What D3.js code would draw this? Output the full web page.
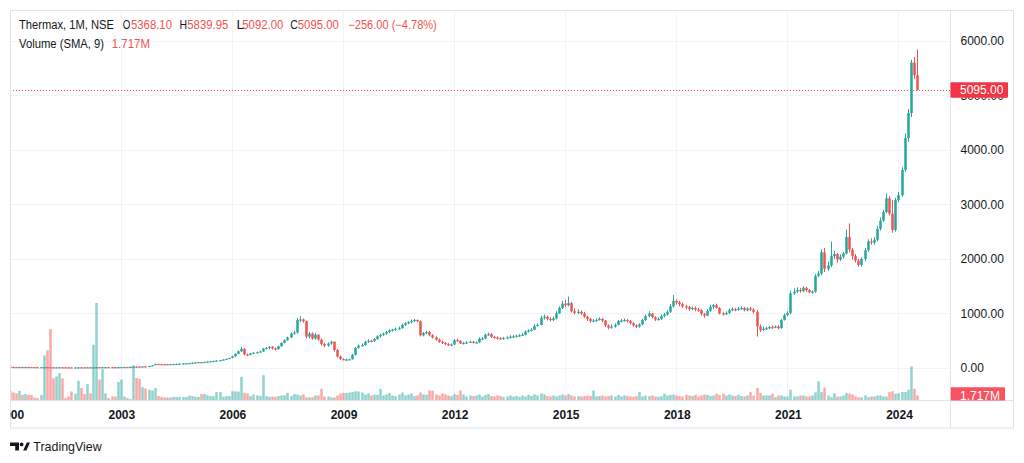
<!DOCTYPE html>
<html><head><meta charset="utf-8">
<script src="https://cdn.jsdelivr.net/npm/d3@7"></script>
<style>html,body{margin:0;padding:0;background:#fff;overflow:hidden}</style>
</head><body>
<svg id="c" width="1024" height="463" xmlns="http://www.w3.org/2000/svg"></svg>
<script>
// ---- DATA: monthly candles, Jan 2000 .. Jul 2024 ----
const startYear = 2000;
const open = [
 21,20,19,18,19,18,19,18,17,16.5,16,16.5,
 17,15,13,12.5,13,14,13,12.5,12,11.5,12,13,
 12.5,12,13,12.5,14,16,15,16,16.5,16,15.5,15,
 16,18,19,18.5,21,26,25,24,30,29,38,52,
 75,72,70,68,71,70,74,76,80,84,88,92,
 100,104,108,106,112,118,124,130,138,146,156,168,
 185,215,260,305,350,250,240,265,280,290,305,355,
 370,390,360,345,400,460,510,560,630,650,880,890,
 860,575,630,540,610,520,440,410,450,480,330,210,
 165,150,155,160,240,370,410,420,480,500,490,530,
 580,610,630,660,690,700,720,730,790,820,840,860,
 880,860,600,640,660,600,560,520,480,460,440,420,
 430,510,500,450,460,470,480,460,470,540,540,610,
 620,570,560,545,540,550,560,575,580,590,600,610,
 670,690,700,770,790,920,940,900,880,910,1000,1100,
 1180,1150,1190,1040,1010,1030,1000,940,900,860,870,880,
 900,870,780,740,760,790,860,870,880,860,820,780,
 760,800,880,950,1000,930,890,900,950,980,1030,1130,
 1230,1200,1170,1130,1120,1080,1100,1070,1060,990,960,1050,
 1120,1150,1100,1000,990,1010,1060,1080,1070,1090,1100,1060,
 1090,1070,1030,760,700,720,730,750,740,760,730,880,
 970,1010,1370,1400,1430,1410,1470,1430,1390,1400,1690,1730,
 2120,1820,1880,2050,2090,1990,2040,2100,2400,2170,2050,1970,
 1890,2000,2160,2320,2300,2350,2550,2700,2860,3110,2830,2530,
 3080,3170,3630,4215,4675,5600,5368.10
];
const high = [
 22,21,20,20,20,20,20,19,18,17.5,17.5,18,
 18,16,14,14,15,15,14,13.5,13,12.5,13.5,14,
 13.5,14,14,15,17,17,17,17.5,17.5,17,16.5,17,
 19,20,20,22,28,28,27,32,32,40,55,78,
 78,75,72,73,74,76,79,82,86,90,95,103,
 108,110,110,114,120,126,133,141,149,160,172,190,
 225,270,320,390,365,265,275,290,300,315,365,385,
 400,400,375,410,470,525,575,650,680,920,950,910,
 870,660,650,640,620,540,460,470,500,490,350,230,
 180,170,170,260,385,430,450,500,530,520,550,600,
 620,650,680,710,720,740,760,810,840,860,890,900,
 890,870,660,680,680,620,580,540,500,480,460,450,
 530,540,510,480,490,500,500,490,560,570,630,650,
 640,590,580,570,570,580,600,600,610,620,640,690,
 710,730,800,820,960,980,960,930,940,1040,1130,1230,
 1250,1310,1210,1090,1080,1060,1030,960,920,900,910,930,
 920,880,800,800,820,880,900,910,900,880,840,800,
 820,900,980,1040,1010,950,930,980,1010,1060,1170,1340,
 1260,1230,1200,1160,1140,1130,1130,1100,1080,1010,1080,1160,
 1170,1180,1120,1030,1040,1090,1110,1100,1120,1130,1120,1110,
 1120,1100,1060,800,760,760,770,780,780,790,900,1000,
 1040,1420,1460,1480,1470,1500,1490,1450,1420,1720,1780,2170,
 2200,1950,2320,2150,2110,2080,2130,2540,2650,2200,2090,2000,
 2030,2200,2360,2380,2400,2600,2760,2900,3200,3150,3080,3120,
 3230,3680,4300,4750,5650,5700,5839.95
];
const low = [
 19,18,17,17.5,17,17.5,17,16.5,16,15.5,15.5,16,
 14,12.5,12,12,12.5,12.5,12,11.5,11,11,11.5,12,
 11.5,11.5,12,12,13.5,14.5,14.5,15.5,15.5,15,14.5,14.5,
 15.5,17.5,18,18,20,24,23,23,28,28,36,50,
 70,68,66,66,68,68,72,74,78,82,86,90,
 98,102,104,104,110,116,122,128,136,144,154,165,
 180,205,250,295,230,215,230,255,270,280,295,340,
 340,340,320,335,390,450,500,550,610,630,840,830,
 540,540,520,520,500,410,380,390,430,300,190,150,
 140,140,145,155,230,350,390,410,460,470,480,520,
 560,590,610,640,670,680,700,720,770,800,820,840,
 840,580,580,620,580,540,500,460,440,420,400,400,
 420,480,440,430,440,460,450,450,460,510,530,590,
 550,540,520,520,520,530,540,550,560,570,590,600,
 650,670,690,760,780,890,870,850,860,890,990,1080,
 1120,1130,1020,980,990,970,920,860,830,840,850,870,
 840,750,710,720,740,780,840,850,830,800,760,730,
 740,780,860,930,910,860,870,880,930,960,1010,1110,
 1160,1130,1100,1080,1050,1060,1040,1030,960,920,950,1030,
 1080,1090,980,960,970,990,1040,1040,1050,1070,1040,1040,
 1050,1000,575,660,680,700,710,720,730,710,720,870,
 950,990,1340,1370,1380,1390,1400,1370,1360,1380,1660,1700,
 1760,1780,1850,2000,1930,1960,2010,2080,2120,1990,1930,1860,
 1860,1960,2130,2260,2260,2320,2520,2680,2840,2800,2480,2500,
 3040,3140,3600,4150,4600,5300,5092
];
const close = [
 20,19,18,19,18,19,18,17,16.5,16,16.5,17,
 15,13,12.5,13,14,13,12.5,12,11.5,12,13,12.5,
 12,13,12.5,14,16,15,16,16.5,16,15.5,15,16,
 18,19,18.5,21,26,25,24,30,29,38,52,75,
 72,70,68,71,70,74,76,80,84,88,92,100,
 104,108,106,112,118,124,130,138,146,156,168,185,
 215,260,305,350,250,240,265,280,290,305,355,370,
 390,360,345,400,460,510,560,630,650,880,890,860,
 575,630,540,610,520,440,410,450,480,330,210,165,
 150,155,160,240,370,410,420,480,500,490,530,580,
 610,630,660,690,700,720,730,790,820,840,860,880,
 860,600,640,660,600,560,520,480,460,440,420,430,
 510,500,450,460,470,480,460,470,540,540,610,620,
 570,560,545,540,550,560,575,580,590,600,610,670,
 690,700,770,790,920,940,900,880,910,1000,1100,1180,
 1150,1190,1040,1010,1030,1000,940,900,860,870,880,900,
 870,780,740,760,790,860,870,880,860,820,780,760,
 800,880,950,1000,930,890,900,950,980,1030,1130,1230,
 1200,1170,1130,1120,1080,1100,1070,1060,990,960,1050,1120,
 1150,1100,1000,990,1010,1060,1080,1070,1090,1100,1060,1090,
 1070,1030,760,700,720,730,750,740,760,730,880,970,
 1010,1370,1400,1430,1410,1470,1430,1390,1400,1690,1730,2120,
 1820,1880,2050,2090,1990,2040,2100,2400,2170,2050,1970,1890,
 2000,2160,2320,2300,2350,2550,2700,2860,3110,2830,2530,3080,
 3170,3630,4215,4675,5600,5368.10,5095
];
// volume, millions
const volume = [
 2.4,2.0,1.8,2.4,1.4,1.6,1.4,1.4,0.75,0.6,1.4,11.2,
 12.5,17.8,5.5,6.0,6.8,5.5,0.6,1.0,2.25,1.7,4.9,3.1,
 1.6,4.1,1.8,13.9,24.3,5.2,7.8,1.8,0.6,1.0,1.0,4.6,
 5.2,1.0,0.6,0.35,8.75,5.6,5.4,3.3,3.0,2.7,2.5,3.1,
 1.1,0.9,0.75,0.75,0.75,0.9,0.9,0.9,0.9,0.9,1.25,1.1,
 0.9,0.9,1.6,1.6,1.3,1.1,1.1,2.1,2.1,0.9,1.1,1.1,
 2.3,2.25,2.25,5.9,1.9,1.75,1.1,1.5,1.3,1.1,6.3,1.1,
 0.9,1.0,0.9,1.1,1.25,1.3,1.9,1.1,1.6,1.5,1.25,1.5,
 0.8,0.8,0.8,1.25,1.25,2.9,1.0,1.0,0.75,0.75,1.25,1.75,
 1.9,1.9,2.0,2.1,2.3,2.25,2.0,1.5,1.75,1.25,1.5,1.4,
 2.9,1.25,1.5,1.9,1.25,1.1,1.5,2.0,1.25,1.5,1.75,1.1,
 1.25,2.0,1.5,1.4,2.5,2.4,1.5,1.25,1.75,1.5,1.25,1.1,
 1.6,1.4,2.5,1.5,1.0,1.25,1.1,1.25,1.5,1.0,1.4,1.6,
 1.1,1.0,1.25,1.1,0.9,1.0,1.25,1.0,1.1,0.9,1.25,1.0,
 1.4,1.1,1.5,1.25,1.75,1.5,1.1,1.0,1.25,1.0,1.25,1.5,
 1.25,1.6,1.25,1.0,1.1,1.0,1.1,1.25,1.1,2.5,1.0,1.1,
 1.25,1.0,1.1,1.25,1.0,1.4,1.0,1.25,1.1,1.0,0.9,1.1,
 2.1,1.0,1.25,1.1,1.25,1.0,0.9,1.1,1.7,1.25,1.4,1.5,
 1.25,1.1,1.0,1.4,1.25,1.1,1.4,1.0,1.25,1.5,1.4,1.1,
 1.25,1.7,1.4,1.7,1.25,1.5,1.25,1.1,1.4,1.1,1.0,1.25,
 2.1,1.25,3.1,1.9,1.25,1.25,1.25,1.7,0.8,1.25,1.25,1.0,
 1.0,2.7,1.0,1.0,1.25,1.25,1.0,1.0,1.25,2.0,4.8,2.1,
 3.2,1.25,0.8,1.8,1.0,1.0,1.25,1.9,1.7,1.5,1.0,0.8,
 0.8,1.25,0.8,1.0,1.0,1.25,1.25,1.0,1.0,2.1,2.3,1.7,
 1.8,2.1,2.1,2.7,8.5,2.9,1.25
];
const priceTicks = [0,1000,2000,3000,4000,5000,6000];
const yearTicks = [2000,2003,2006,2009,2012,2015,2018,2021,2024];
const lastPrice = 5095;
const lastPriceLabel = "5095.00";
const volumeLabel = "1.717M";
const legendTitle = "Thermax, 1M, NSE";
const legendOHLC = [["O","5368.10"],["H","5839.95"],["L","5092.00"],["C","5095.00"]];
const legendChange = "\u2212256.00 (\u22124.78%)";
const legendVolume = "Volume (SMA, 9)";

// ---- LAYOUT ----
const paneL = 10, paneR = 950.5, paneT = 10, paneB = 400.5, axisB = 428, frameR = 1014;
const UP = "#26a69a", DOWN = "#ef5350";
const UPV = "rgba(38,166,154,0.5)", DOWNV = "rgba(239,83,80,0.5)";
const TXT = "#131722", GRID = "#f0f3fa", BORDER = "#e0e3eb";
const FONT = "'Liberation Sans', Arial, sans-serif";

const n = close.length;
const x = d3.scaleLinear().domain([0, n - 1]).range([9.7, 917]);
const y = d3.scaleLinear().domain([0, 6000]).range([368, 40.7]);
const yv = d3.scaleLinear().domain([0, d3.max(volume)]).range([paneB, 303]);

const bars = d3.range(n).map(i => ({i, o: open[i], h: high[i], l: low[i], c: close[i], v: volume[i]}));
const cx = i => Math.round(x(i)) + 0.5;

const svg = d3.select("#c");
svg.append("rect").attr("width",1024).attr("height",463).attr("fill","#fff");

const defs = svg.append("defs");
defs.append("clipPath").attr("id","pane").append("rect")
  .attr("x",paneL).attr("y",paneT).attr("width",paneR-paneL).attr("height",paneB-paneT);
defs.append("clipPath").attr("id","taxis").append("rect")
  .attr("x",paneL).attr("y",paneB).attr("width",paneR-paneL).attr("height",axisB-paneB);
defs.append("clipPath").attr("id","paxis").append("rect")
  .attr("x",paneR).attr("y",paneT).attr("width",frameR-paneR).attr("height",paneB-paneT);

// grid
const grid = svg.append("g").attr("clip-path","url(#pane)");
grid.selectAll("line.h").data(priceTicks).join("line")
  .attr("x1",paneL).attr("x2",paneR)
  .attr("y1",d=>Math.round(y(d))+0.5).attr("y2",d=>Math.round(y(d))+0.5)
  .attr("stroke",GRID).attr("stroke-width",1);
grid.selectAll("line.v").data(yearTicks).join("line")
  .attr("x1",d=>cx((d-startYear)*12)).attr("x2",d=>cx((d-startYear)*12))
  .attr("y1",paneT).attr("y2",paneB)
  .attr("stroke",GRID).attr("stroke-width",1);

// volume
const plot = svg.append("g").attr("clip-path","url(#pane)");
plot.append("g").selectAll("rect").data(bars).join("rect")
  .attr("x",d=>cx(d.i)-1.25).attr("width",2.5)
  .attr("y",d=>yv(d.v)).attr("height",d=>paneB-yv(d.v))
  .attr("fill",d=>d.c>=d.o?UPV:DOWNV);

// candles
const cg = plot.append("g");
cg.selectAll("rect.w").data(bars).join("rect")
  .attr("x",d=>cx(d.i)-0.5).attr("width",1)
  .attr("y",d=>y(d.h)).attr("height",d=>Math.max(1,y(d.l)-y(d.h)))
  .attr("fill",d=>d.c>=d.o?UP:DOWN);
cg.selectAll("rect.b").data(bars).join("rect")
  .attr("x",d=>cx(d.i)-1.25).attr("width",2.5)
  .attr("y",d=>y(Math.max(d.o,d.c))).attr("height",d=>Math.max(1.2,Math.abs(y(d.o)-y(d.c))))
  .attr("fill",d=>d.c>=d.o?UP:DOWN);

// last price dotted line
plot.append("line").attr("x1",paneL).attr("x2",paneR)
  .attr("y1",Math.round(y(lastPrice))+0.5).attr("y2",Math.round(y(lastPrice))+0.5)
  .attr("stroke",DOWN).attr("stroke-width",1).attr("stroke-dasharray","1,2");

// frame
const fr = svg.append("g").attr("fill","none").attr("stroke",BORDER).attr("stroke-width",1);
fr.append("rect").attr("x",paneL+0.5).attr("y",paneT+0.5).attr("width",frameR-paneL-1).attr("height",axisB-paneT-0.5);
fr.append("line").attr("x1",paneR).attr("x2",paneR).attr("y1",paneT).attr("y2",axisB);
fr.append("line").attr("x1",paneL).attr("x2",frameR).attr("y1",paneB).attr("y2",paneB);

// price axis
const pa = svg.append("g").attr("clip-path","url(#paxis)")
  .append("g").attr("transform",`translate(${paneR},0)`)
  .call(d3.axisRight(y).tickValues(priceTicks).tickFormat(d3.format(".2f")).tickSize(0).tickPadding(10));
pa.select(".domain").remove();
pa.selectAll("text").attr("font-family",FONT).attr("font-size",12).attr("fill",TXT);

// last price label box
const lp = svg.append("g");
lp.append("rect").attr("x",paneR).attr("y",y(lastPrice)-7.8).attr("width",57.5).attr("height",15.6)
  .attr("rx",1).attr("fill","#f23645");
lp.append("text").attr("x",paneR+9.5).attr("y",y(lastPrice)).attr("dy","0.35em")
  .attr("font-family",FONT).attr("font-size",12).attr("fill","#fff").text(lastPriceLabel);

// volume label box (clipped by time axis)
const vl = svg.append("g").attr("clip-path","url(#paxis)");
vl.append("rect").attr("x",paneR).attr("y",387.3).attr("width",54.5).attr("height",15)
  .attr("rx",1).attr("fill","#f7525f");
vl.append("text").attr("x",paneR+9.5).attr("y",396).attr("dy","0.35em")
  .attr("font-family",FONT).attr("font-size",12).attr("fill","#fff").text(volumeLabel);

// time axis
const ta = svg.append("g").attr("clip-path","url(#taxis)")
  .append("g").attr("transform",`translate(0.5,${paneB})`)
  .call(d3.axisBottom(x).tickValues(yearTicks.map(d=>(d-startYear)*12))
    .tickFormat(i=>String(startYear + i/12)).tickSize(0).tickPadding(10));
ta.select(".domain").remove();
ta.selectAll("text").attr("font-family",FONT).attr("font-size",12).attr("font-weight","bold").attr("fill",TXT);

// legend
const lg = svg.append("g").attr("font-family",FONT).attr("font-size",12);
lg.append("text").attr("x",19).attr("y",29).attr("fill",TXT)
  .attr("textLength",95).attr("lengthAdjust","spacingAndGlyphs").text(legendTitle);
const ohlcX = [[122.7,131],[179.5,187.3],[236.5,242.3],[290.2,297.8]];
legendOHLC.forEach((p,k)=>{
  lg.append("text").attr("x",ohlcX[k][0]).attr("y",29).attr("fill",TXT)
    .attr("textLength",7.6).attr("lengthAdjust","spacingAndGlyphs").text(p[0]);
  lg.append("text").attr("x",ohlcX[k][1]).attr("y",29).attr("fill",DOWN)
    .attr("textLength",41).attr("lengthAdjust","spacingAndGlyphs").text(p[1]);
});
lg.append("text").attr("x",348.3).attr("y",29).attr("fill",DOWN)
  .attr("textLength",88.5).attr("lengthAdjust","spacingAndGlyphs").text(legendChange);
lg.append("text").attr("x",19).attr("y",47.5).attr("fill",TXT)
  .attr("textLength",85).attr("lengthAdjust","spacingAndGlyphs").text(legendVolume);
lg.append("text").attr("x",111.7).attr("y",47.5).attr("fill",DOWN)
  .attr("textLength",38.3).attr("lengthAdjust","spacingAndGlyphs").text(volumeLabel);

// TradingView logo
const logo = svg.append("g").attr("fill",TXT);
logo.append("path").attr("d","M10,442.5H19V450.5H15.2V446H10Z");
logo.append("circle").attr("cx",21.6).attr("cy",444.4).attr("r",1.9);
logo.append("path").attr("d","M23.2,450.5L26.8,442.5H30L26.4,450.5Z");
logo.append("text").attr("x",33.3).attr("y",450.6).attr("font-family",FONT).attr("font-size",13)
  .attr("textLength",68.4).attr("lengthAdjust","spacingAndGlyphs").text("TradingView");
</script>
</body></html>
